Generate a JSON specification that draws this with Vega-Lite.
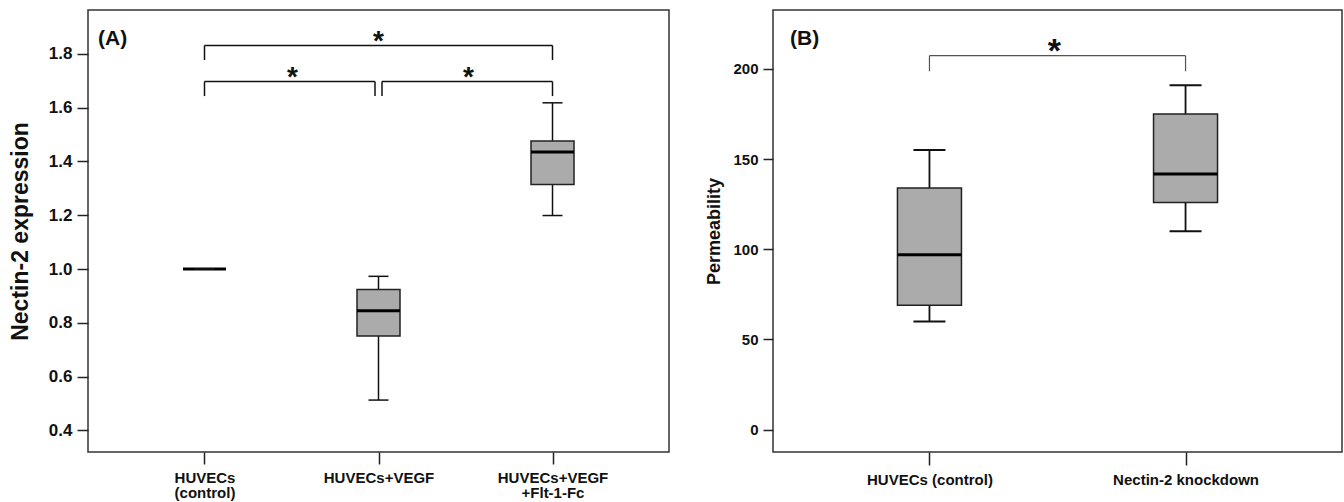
{
  "$schema": "https://vega.github.io/schema/vega-lite/v6.json",
  "padding": {"left": 8, "top": 9, "right": 0, "bottom": 0},
  "background": "white",
  "datasets": {
    "boxA": [
      {"group": "HUVECs (control)", "min": 1.0, "q1": 1.0, "median": 1.0, "q3": 1.0, "max": 1.0},
      {"group": "HUVECs+VEGF", "min": 0.513, "q1": 0.751, "median": 0.845, "q3": 0.9245, "max": 0.973},
      {"group": "HUVECs+VEGF +Flt-1-Fc", "min": 1.199, "q1": 1.314, "median": 1.435, "q3": 1.476, "max": 1.618}
    ],
    "bracketsA": [
      {"id": "top", "from": "HUVECs (control)", "to": "HUVECs+VEGF +Flt-1-Fc", "y": 1.831, "yEnd": 1.777, "star": "*"},
      {"id": "left", "from": "HUVECs (control)", "to": "HUVECs+VEGF", "y": 1.697, "yEnd": 1.643, "star": "*"},
      {"id": "right", "from": "HUVECs+VEGF", "to": "HUVECs+VEGF +Flt-1-Fc", "y": 1.697, "yEnd": 1.643, "star": "*"}
    ],
    "boxB": [
      {"group": "HUVECs (control)", "min": 60, "q1": 69, "median": 97, "q3": 134, "max": 155},
      {"group": "Nectin-2 knockdown", "min": 110, "q1": 126, "median": 141.7, "q3": 175, "max": 191}
    ],
    "bracketsB": [
      {"id": "top", "from": "HUVECs (control)", "to": "Nectin-2 knockdown", "y": 207.4, "yEnd": 198.7, "star": "*"}
    ]
  },
  "spacing": 104,
  "bounds": "flush",
  "hconcat": [
    {
      "width": 581,
      "height": 442,
      "title": {"text": "(A)", "anchor": "start", "frame": "group", "offset": -56, "dx": 10, "fontSize": 21, "fontWeight": "bold", "baseline": "alphabetic", "color": "#111"},
      "encoding": {
        "x": {"field": "group", "type": "nominal", "sort": null,
          "scale": {"type": "point", "padding": 0.6695, "domain": ["HUVECs (control)", "HUVECs+VEGF", "HUVECs+VEGF +Flt-1-Fc"]},
          "axis": {"title": null, "labelAngle": 0, "labelExpr": "split(datum.label, ' ')", "labelFontSize": 15, "labelPadding": 6, "labelLineHeight": 15, "labelBaseline": "top", "tickSize": 12}}
      },
      "layer": [
        {
          "data": {"name": "boxA"},
          "mark": {"type": "rule", "color": "#111", "strokeWidth": 1.5},
          "encoding": {
            "y": {"field": "min", "type": "quantitative",
              "scale": {"domain": [0.32, 1.963], "nice": false, "zero": false},
              "axis": {"title": "Nectin-2 expression", "values": [0.4, 0.6, 0.8, 1.0, 1.2, 1.4, 1.6, 1.8], "format": ".1f", "labelFontSize": 17, "titleFontSize": 23, "labelPadding": 5, "titlePadding": 16, "tickSize": 11}},
            "y2": {"field": "max"}
          }
        },
        {
          "data": {"name": "boxA"},
          "mark": {"type": "bar", "width": 43, "fill": "#ababab", "stroke": "#222", "strokeWidth": 1.5, "opacity": 1},
          "encoding": {"y": {"field": "q1", "type": "quantitative"}, "y2": {"field": "q3"}}
        },
        {
          "data": {"name": "boxA"},
          "mark": {"type": "tick", "size": 43, "thickness": 3, "color": "#000", "opacity": 1},
          "encoding": {"y": {"field": "median", "type": "quantitative"}}
        },
        {
          "data": {"name": "boxA"},
          "mark": {"type": "tick", "size": 20, "thickness": 1.5, "color": "#111", "opacity": 1},
          "encoding": {"y": {"field": "min", "type": "quantitative"}}
        },
        {
          "data": {"name": "boxA"},
          "mark": {"type": "tick", "size": 20, "thickness": 1.5, "color": "#111", "opacity": 1},
          "encoding": {"y": {"field": "max", "type": "quantitative"}}
        },
        {
          "data": {"name": "bracketsA"},
          "transform": [{"filter": "datum.id === 'top'"}],
          "mark": {"type": "rule", "color": "#111", "strokeWidth": 1.5},
          "encoding": {"x": {"field": "from", "type": "nominal"}, "x2": {"field": "to"}, "y": {"field": "y", "type": "quantitative"}}
        },
        {
          "data": {"name": "bracketsA"},
          "transform": [{"filter": "datum.id === 'left'"}],
          "mark": {"type": "rule", "color": "#111", "strokeWidth": 1.5, "x2Offset": -3.5},
          "encoding": {"x": {"field": "from", "type": "nominal"}, "x2": {"field": "to"}, "y": {"field": "y", "type": "quantitative"}}
        },
        {
          "data": {"name": "bracketsA"},
          "transform": [{"filter": "datum.id === 'right'"}],
          "mark": {"type": "rule", "color": "#111", "strokeWidth": 1.5, "xOffset": 3.5},
          "encoding": {"x": {"field": "from", "type": "nominal"}, "x2": {"field": "to"}, "y": {"field": "y", "type": "quantitative"}}
        },
        {
          "data": {"name": "bracketsA"},
          "transform": [{"filter": "datum.id !== 'right'"}],
          "mark": {"type": "rule", "color": "#111", "strokeWidth": 1.5},
          "encoding": {"x": {"field": "from", "type": "nominal"}, "y": {"field": "y", "type": "quantitative"}, "y2": {"field": "yEnd"}}
        },
        {
          "data": {"name": "bracketsA"},
          "transform": [{"filter": "datum.id === 'right'"}],
          "mark": {"type": "rule", "color": "#111", "strokeWidth": 1.5, "xOffset": 3.5},
          "encoding": {"x": {"field": "from", "type": "nominal"}, "y": {"field": "y", "type": "quantitative"}, "y2": {"field": "yEnd"}}
        },
        {
          "data": {"name": "bracketsA"},
          "transform": [{"filter": "datum.id !== 'left'"}],
          "mark": {"type": "rule", "color": "#111", "strokeWidth": 1.5},
          "encoding": {"x": {"field": "to", "type": "nominal"}, "y": {"field": "y", "type": "quantitative"}, "y2": {"field": "yEnd"}}
        },
        {
          "data": {"name": "bracketsA"},
          "transform": [{"filter": "datum.id === 'left'"}],
          "mark": {"type": "rule", "color": "#111", "strokeWidth": 1.5, "xOffset": -3.5},
          "encoding": {"x": {"field": "to", "type": "nominal"}, "y": {"field": "y", "type": "quantitative"}, "y2": {"field": "yEnd"}}
        },
        {
          "data": {"name": "bracketsA"},
          "transform": [{"filter": "datum.id === 'top'"}],
          "mark": {"type": "text", "fontSize": 28, "fontWeight": "bold", "baseline": "alphabetic", "align": "center", "dx": 174, "dy": 4, "color": "#111"},
          "encoding": {"x": {"field": "from", "type": "nominal"}, "y": {"field": "y", "type": "quantitative"}, "text": {"field": "star"}}
        },
        {
          "data": {"name": "bracketsA"},
          "transform": [{"filter": "datum.id === 'left'"}],
          "mark": {"type": "text", "fontSize": 28, "fontWeight": "bold", "baseline": "alphabetic", "align": "center", "dx": 88, "dy": 4, "color": "#111"},
          "encoding": {"x": {"field": "from", "type": "nominal"}, "y": {"field": "y", "type": "quantitative"}, "text": {"field": "star"}}
        },
        {
          "data": {"name": "bracketsA"},
          "transform": [{"filter": "datum.id === 'right'"}],
          "mark": {"type": "text", "fontSize": 28, "fontWeight": "bold", "baseline": "alphabetic", "align": "center", "dx": -84, "dy": 4, "color": "#111"},
          "encoding": {"x": {"field": "to", "type": "nominal"}, "y": {"field": "y", "type": "quantitative"}, "text": {"field": "star"}}
        }
      ]
    },
    {
      "width": 569,
      "height": 442,
      "title": {"text": "(B)", "anchor": "start", "frame": "group", "offset": -56, "dx": 17, "fontSize": 21, "fontWeight": "bold", "baseline": "alphabetic", "color": "#111"},
      "encoding": {
        "x": {"field": "group", "type": "nominal", "sort": null,
          "scale": {"type": "point", "padding": 0.611, "domain": ["HUVECs (control)", "Nectin-2 knockdown"]},
          "axis": {"title": null, "labelAngle": 0, "labelFontSize": 15, "labelPadding": 7, "labelBaseline": "top", "tickSize": 13}}
      },
      "layer": [
        {
          "data": {"name": "boxB"},
          "mark": {"type": "rule", "color": "#111", "strokeWidth": 1.8},
          "encoding": {
            "y": {"field": "min", "type": "quantitative",
              "scale": {"domain": [-12.4, 232.7], "nice": false, "zero": false},
              "axis": {"title": "Permeability", "values": [0, 50, 100, 150, 200], "labelFontSize": 15, "titleFontSize": 18, "labelPadding": 5, "titlePadding": 9, "tickSize": 10}},
            "y2": {"field": "max"}
          }
        },
        {
          "data": {"name": "boxB"},
          "mark": {"type": "bar", "width": 64, "fill": "#ababab", "stroke": "#222", "strokeWidth": 1.5, "opacity": 1},
          "encoding": {"y": {"field": "q1", "type": "quantitative"}, "y2": {"field": "q3"}}
        },
        {
          "data": {"name": "boxB"},
          "mark": {"type": "tick", "size": 64, "thickness": 3, "color": "#000", "opacity": 1},
          "encoding": {"y": {"field": "median", "type": "quantitative"}}
        },
        {
          "data": {"name": "boxB"},
          "mark": {"type": "tick", "size": 32, "thickness": 2, "color": "#111", "opacity": 1},
          "encoding": {"y": {"field": "min", "type": "quantitative"}}
        },
        {
          "data": {"name": "boxB"},
          "mark": {"type": "tick", "size": 32, "thickness": 2, "color": "#111", "opacity": 1},
          "encoding": {"y": {"field": "max", "type": "quantitative"}}
        },
        {
          "data": {"name": "bracketsB"},
          "mark": {"type": "rule", "color": "#555", "strokeWidth": 1.2},
          "encoding": {"x": {"field": "from", "type": "nominal"}, "x2": {"field": "to"}, "y": {"field": "y", "type": "quantitative"}}
        },
        {
          "data": {"name": "bracketsB"},
          "mark": {"type": "rule", "color": "#555", "strokeWidth": 1.2},
          "encoding": {"x": {"field": "from", "type": "nominal"}, "y": {"field": "y", "type": "quantitative"}, "y2": {"field": "yEnd"}}
        },
        {
          "data": {"name": "bracketsB"},
          "mark": {"type": "rule", "color": "#555", "strokeWidth": 1.2},
          "encoding": {"x": {"field": "to", "type": "nominal"}, "y": {"field": "y", "type": "quantitative"}, "y2": {"field": "yEnd"}}
        },
        {
          "data": {"name": "bracketsB"},
          "mark": {"type": "text", "fontSize": 34, "fontWeight": "bold", "baseline": "alphabetic", "align": "center", "dx": 125, "dy": 6, "color": "#111"},
          "encoding": {"x": {"field": "from", "type": "nominal"}, "y": {"field": "y", "type": "quantitative"}, "text": {"field": "star"}}
        }
      ]
    }
  ],
  "config": {
    "font": "Liberation Sans",
    "view": {"stroke": "#333", "strokeWidth": 1.5},
    "axis": {"grid": false, "domain": false, "tickColor": "#222", "tickWidth": 1.5, "labelColor": "#111", "labelFont": "Liberation Sans", "labelFontWeight": "bold", "titleFont": "Liberation Sans", "titleFontWeight": "bold", "titleColor": "#111"}
  }
}
